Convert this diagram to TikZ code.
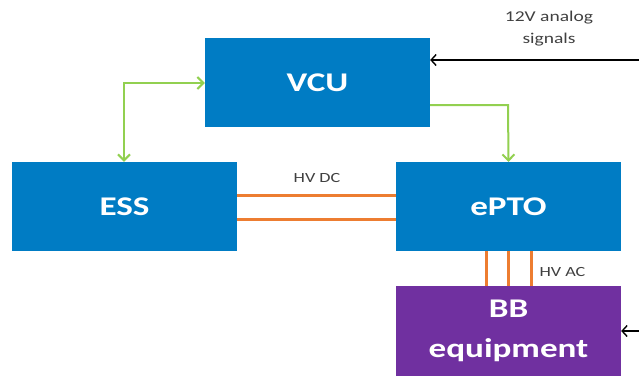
\documentclass[tikz,border=0pt]{standalone}
\usepackage{fontspec}
\setmainfont{Carlito}
\newfontfamily\widefont[FakeStretch=1.3]{Carlito}
\usetikzlibrary{arrows.meta}
\definecolor{boxblue}{RGB}{0,124,196}
\definecolor{boxpurple}{RGB}{112,48,160}
\definecolor{hvorange}{RGB}{237,125,49}
\definecolor{siggreen}{RGB}{146,208,80}
\tikzset{
  blk/.style={draw=none, fill=boxblue, minimum width=225pt, minimum height=89pt, inner sep=0pt,
    text=white, font=\widefont\fontsize{27}{40}\selectfont\bfseries, align=center},
  hv/.style={draw=hvorange, line width=3pt},
  sig/.style={draw=siggreen, line width=2pt, -{Straight Barb[length=6pt,width=12pt]}},
  ext/.style={draw=black, line width=1.4pt, -{Straight Barb[length=5pt,width=11pt]}},
  lbl/.style={font=\widefont\fontsize{14}{16}\selectfont, text=black!75, align=center},
}
\begin{document}
\begin{tikzpicture}[x=1pt,y=-1pt]
\useasboundingbox (0,0) rectangle (639,376);
\node[blk] (vcu) at (317.5,82.5) {VCU};
\node[blk] (ess) at (124.5,206.5) {ESS};
\node[blk] (epto) at (508.5,206.5) {ePTO};
\node[blk, fill=boxpurple, minimum height=90pt] (bb) at (508.5,331) {BB\\equipment};
% HV DC
\draw[hv] (ess.east |- 0,195) -- (epto.west |- 0,195);
\draw[hv] (ess.east |- 0,219) -- (epto.west |- 0,219);
\node[lbl] (hvdc) at (317,178) {HV DC};
% HV AC
\foreach \xx in {486,508,531}{
  \draw[hv] (\xx,251) -- (\xx,286);
}
\node[lbl, anchor=west] (hvac) at (536,272) {HV AC};
% green signals
\coordinate (g1) at (124,83);
\draw[sig, {Straight Barb[length=6pt,width=12pt]}-{Straight Barb[length=6pt,width=12pt]}] (vcu.west |- g1) -- (g1) -- (g1 |- ess.north);
\coordinate (g2) at (508,105);
\draw[sig] (vcu.east |- g2) -- (g2) -- (epto.north);
% external
\coordinate (e1) at (639,60);
\draw[ext] (e1) -- (vcu.east |- e1);
\node[lbl, font=\widefont\fontsize{15}{22}\selectfont] (ext1) at (549,29) {12V analog\\signals};
\coordinate (e2) at (639,331);
\draw[ext] (e2) -- (bb.east |- e2);
\end{tikzpicture}
\end{document}
